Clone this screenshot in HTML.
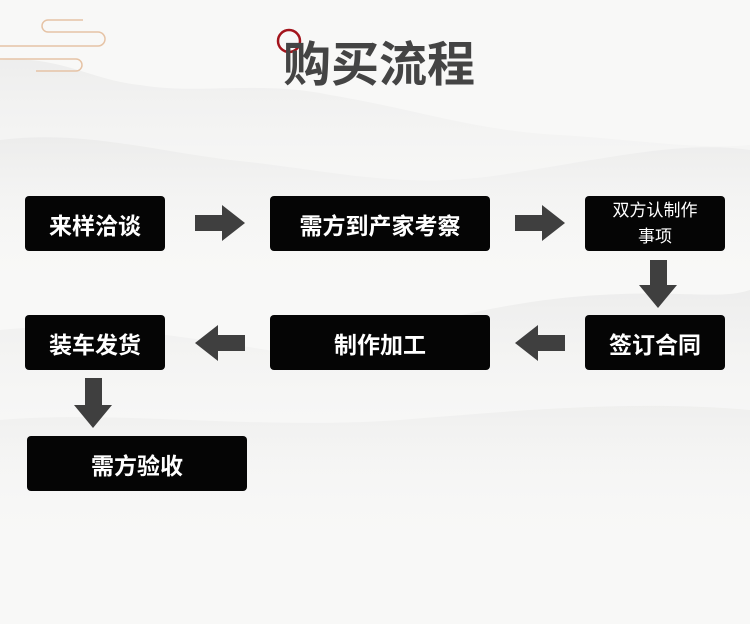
<!DOCTYPE html><html><head><meta charset="utf-8"><style>
body{margin:0;width:750px;height:624px;overflow:hidden;background:#f8f8f7;position:relative;font-family:"Liberation Sans","Noto Sans CJK SC",sans-serif}
.b{position:absolute;background:#050505;color:#fff;border-radius:4px;display:flex;align-items:center;justify-content:center;text-align:center;font-size:23px;font-weight:bold;height:55px}
svg{position:absolute;left:0;top:0}
</style></head><body>
<svg width="750" height="624">
<defs><linearGradient id="m" x1="0" y1="0" x2="0" y2="1"><stop offset="0" stop-color="#dedede"/><stop offset="1" stop-color="#f8f8f7" stop-opacity="0"/></linearGradient></defs>
<path d="M0,60 C60,55 90,80 140,85 C200,95 260,80 330,95 C420,110 470,130 560,135 C640,140 700,150 750,145 L750,260 L0,260Z" fill="url(#m)" opacity="0.4"/>
<path d="M0,140 C80,130 150,150 230,160 C330,170 400,190 500,175 C600,160 680,140 750,150 L750,300 L0,300Z" fill="url(#m)" opacity="0.35"/>
<path d="M0,330 C100,320 200,340 300,355 C400,330 500,300 600,295 C680,290 720,300 750,290 L750,480 L0,480Z" fill="url(#m)" opacity="0.4"/>
<path d="M0,420 C120,410 250,430 400,420 C520,410 640,400 750,410 L750,560 L0,560Z" fill="url(#m)" opacity="0.3"/>
<g fill="none" stroke="#e6c3a5" stroke-width="1.5">
<path d="M0,46 H98 a7,7 0 0 0 0,-14 H48 a6,6 0 0 1 0,-12 H83"/><path d="M0,59 H76 a6,6 0 0 1 0,12 H36"/>
</g>
<circle cx="289" cy="41" r="11" fill="none" stroke="#a3141c" stroke-width="2.5"/>
<g fill="#3f3f3f">
<path d="M195,215 H222 V205 L245,223 L222,241 V231 H195Z"/>
<path d="M515,215 H542 V205 L565,223 L542,241 V231 H515Z"/>
<path d="M245,335 H218 V325 L195,343 L218,361 V351 H245Z"/>
<path d="M565,335 H538 V325 L515,343 L538,361 V351 H565Z"/>
<path d="M650,260 H667 V285 H677 L658,308 L639,285 H650Z"/>
<path d="M85,378 H102 V405 H112 L93,428 L74,405 H85Z"/>
</g>
<text x="283" y="81" font-size="48" font-weight="bold" fill="#444" font-family="Liberation Sans,Noto Sans CJK SC,sans-serif">购买流程</text>
</svg>
<div class="b" style="left:25px;top:196px;width:140px">来样洽谈</div>
<div class="b" style="left:270px;top:196px;width:220px">需方到产家考察</div>
<div class="b" style="left:585px;top:196px;width:140px;font-size:17px;font-weight:normal;line-height:26px">双方认制作<br>事项</div>
<div class="b" style="left:585px;top:315px;width:140px">签订合同</div>
<div class="b" style="left:270px;top:315px;width:220px">制作加工</div>
<div class="b" style="left:25px;top:315px;width:140px">装车发货</div>
<div class="b" style="left:27px;top:436px;width:220px">需方验收</div>
</body></html>
